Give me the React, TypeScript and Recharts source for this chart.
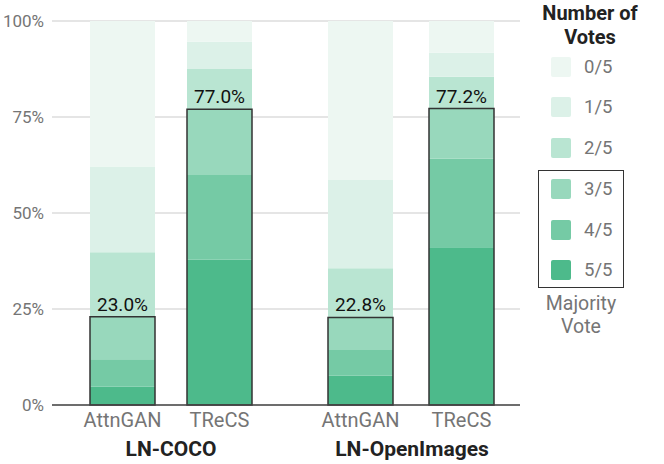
import React from 'react';
import { BarChart, Bar, XAxis, YAxis, CartesianGrid, LabelList, Legend } from 'recharts';

// Categories
const MODELS = ['AttnGAN', 'TReCS', 'AttnGAN', 'TReCS'];
const DATASETS = ['LN-COCO', 'LN-OpenImages'];

// Share of images (%) per number of votes, order: COCO AttnGAN, COCO TReCS, OI AttnGAN, OI TReCS
const VOTES_5 = [4.8, 37.8, 7.6, 41.1];
const VOTES_4 = [7.1, 22.1, 6.7, 23.0];
const VOTES_3 = [11.1, 17.1, 8.5, 13.1];
const VOTES_2 = [16.8, 10.5, 12.8, 8.3];
const VOTES_1 = [22.3, 7.1, 23.0, 6.2];
const VOTES_0 = [37.9, 5.4, 41.4, 8.3];
const MAJORITY = [23.0, 77.0, 22.8, 77.2];

const SERIES_KEYS = ['v5', 'v4', 'v3', 'v2', 'v1', 'v0'];
const SERIES_NAMES = ['5/5', '4/5', '3/5', '2/5', '1/5', '0/5'];
const COLORS = ['#4dba8b', '#75caa5', '#98d8bc', '#b9e5d2', '#dcf1e8', '#edf7f2'];
const Y_TICKS = [0, 25, 50, 75, 100];

const rows = MODELS.map((m, i) => ({
  model: m,
  v5: VOTES_5[i],
  v4: VOTES_4[i],
  v3: VOTES_3[i],
  v2: VOTES_2[i],
  v1: VOTES_1[i],
  v0: VOTES_0[i],
  majority: MAJORITY[i],
}));
const cocoData = rows.slice(0, 2);
const oiData = rows.slice(2, 4);

const GRAY = '#757575';
const FONT = 'Roboto, "Noto Sans", sans-serif';

const LegendBox = () => {
  const order = [5, 4, 3, 2, 1, 0];
  return (
    <div style={{ position: 'relative', width: 130, height: 340, fontFamily: FONT }}>
      <div style={{ position: 'absolute', left: 0, top: 1, width: 120, textAlign: 'center', fontWeight: 700, fontSize: 20, lineHeight: '24px', color: '#222' }}>
        Number of<br />Votes
      </div>
      {order.map((idx, r) => (
        <div key={idx} style={{ position: 'absolute', left: 21, top: 56.7 + r * 40.7, height: 20, display: 'flex', alignItems: 'center' }}>
          <div style={{ width: 20, height: 20, borderRadius: 2, background: COLORS[idx] }} />
          <span style={{ marginLeft: 13, fontSize: 18.5, color: GRAY }}>{SERIES_NAMES[idx]}</span>
        </div>
      ))}
      <div style={{ position: 'absolute', left: 7.7, top: 170, width: 86.6, height: 118.3, border: '1.5px solid #333', boxSizing: 'border-box' }} />
      <div style={{ position: 'absolute', left: 0, top: 292, width: 102, textAlign: 'center', fontSize: 19.5, lineHeight: '23px', color: GRAY }}>
        Majority<br />Vote
      </div>
    </div>
  );
};

const renderBars = () => [
  ...SERIES_KEYS.map((k, i) => (
    <Bar key={k} dataKey={k} name={SERIES_NAMES[i]} stackId="a" fill={COLORS[i]} barSize={65} isAnimationActive={false} />
  )),
  <Bar key="maj" xAxisId="ov" dataKey="majority" fill="none" stroke="#333" strokeWidth={1.5} barSize={65} legendType="none" isAnimationActive={false}>
    <LabelList dataKey="majority" position="top" offset={6} fill="#111" fontSize={19} formatter={(v: any) => `${Number(v).toFixed(1)}%`} />
  </Bar>,
];

export default function App() {
  const tickStyle = { fill: GRAY, fontSize: 20 };
  const groupLabel = (text: string, dx: number) => ({
    value: text,
    position: 'insideBottom' as const,
    offset: 8,
    dx,
    fill: '#222',
    fontSize: 21,
    fontWeight: 700,
  });
  return (
    <div style={{ position: 'absolute', left: 0, top: 0, width: 664, height: 464, background: '#fff', fontFamily: FONT }}>
      <div style={{ position: 'absolute', left: 0, top: 0 }}>
        <BarChart width={290} height={464} data={cocoData} margin={{ top: 21, right: 0, bottom: 0, left: 0 }}>
          <CartesianGrid vertical={false} stroke="#dcdcdc" strokeWidth={1.5} />
          <YAxis width={52} domain={[0, 100]} ticks={Y_TICKS} tickFormatter={(v) => `${v}%`} axisLine={false} tickLine={false} tick={{ fill: GRAY, fontSize: 17 }} />
          <XAxis dataKey="model" height={59} tickLine={false} axisLine={{ stroke: '#444', strokeWidth: 1.5 }} tick={tickStyle} padding={{ left: 22, right: 22 }} label={groupLabel(DATASETS[0], 0)} />
          <XAxis xAxisId="ov" dataKey="model" hide padding={{ left: 22, right: 22 }} />
          {renderBars()}
        </BarChart>
      </div>
      <div style={{ position: 'absolute', left: 290, top: 0 }}>
        <BarChart width={374} height={464} data={oiData} margin={{ top: 21, right: 144, bottom: 0, left: 0 }}>
          <CartesianGrid vertical={false} stroke="#dcdcdc" strokeWidth={1.5} />
          <YAxis hide domain={[0, 100]} ticks={Y_TICKS} />
          <XAxis dataKey="model" height={59} tickLine={false} axisLine={{ stroke: '#444', strokeWidth: 1.5 }} tick={tickStyle} padding={{ left: 20, right: 8 }} label={groupLabel(DATASETS[1], 7)} />
          <XAxis xAxisId="ov" dataKey="model" hide padding={{ left: 20, right: 8 }} />
          {renderBars()}
          <Legend layout="vertical" align="center" verticalAlign="middle" wrapperStyle={{ position: 'absolute', left: 240, top: 0, width: 130 }} content={() => <LegendBox />} />
        </BarChart>
      </div>
    </div>
  );
}
